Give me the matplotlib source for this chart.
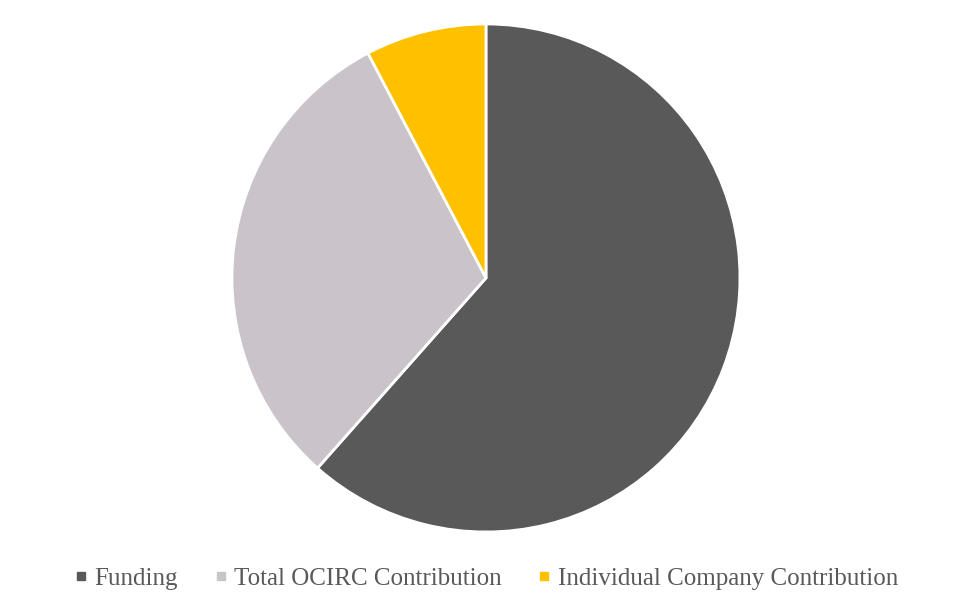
import matplotlib.pyplot as plt
from matplotlib.lines import Line2D

labels = ['Funding', 'Total OCIRC Contribution', 'Individual Company Contribution']
values = [80, 40, 10]
colors = ['#595959', '#CBC3CA', '#FFC000']

fig = plt.figure(figsize=(9.73, 6.10), dpi=100)
ax = fig.add_axes([0.2384, 0.1279, 0.5221, 0.8328])

ax.pie(values, colors=colors, startangle=90, counterclock=False,
       radius=1, wedgeprops={'edgecolor': 'white', 'linewidth': 2})
ax.set_xlim(-1, 1)
ax.set_ylim(-1, 1)
ax.set_aspect('equal')
ax.axis('off')

handles = [Line2D([], [], marker='s', linestyle='none', markersize=6,
                  markerfacecolor=c, markeredgecolor=c) for c in colors]
fig.legend(handles, labels, loc='center', bbox_to_anchor=(0.5, 0.052),
           ncol=3, frameon=False, handlelength=0.5, handletextpad=0.3,
           columnspacing=1.45,
           prop={'family': 'Liberation Serif', 'size': 18},
           labelcolor='#595959')

fig.savefig('out.png', dpi=100)
